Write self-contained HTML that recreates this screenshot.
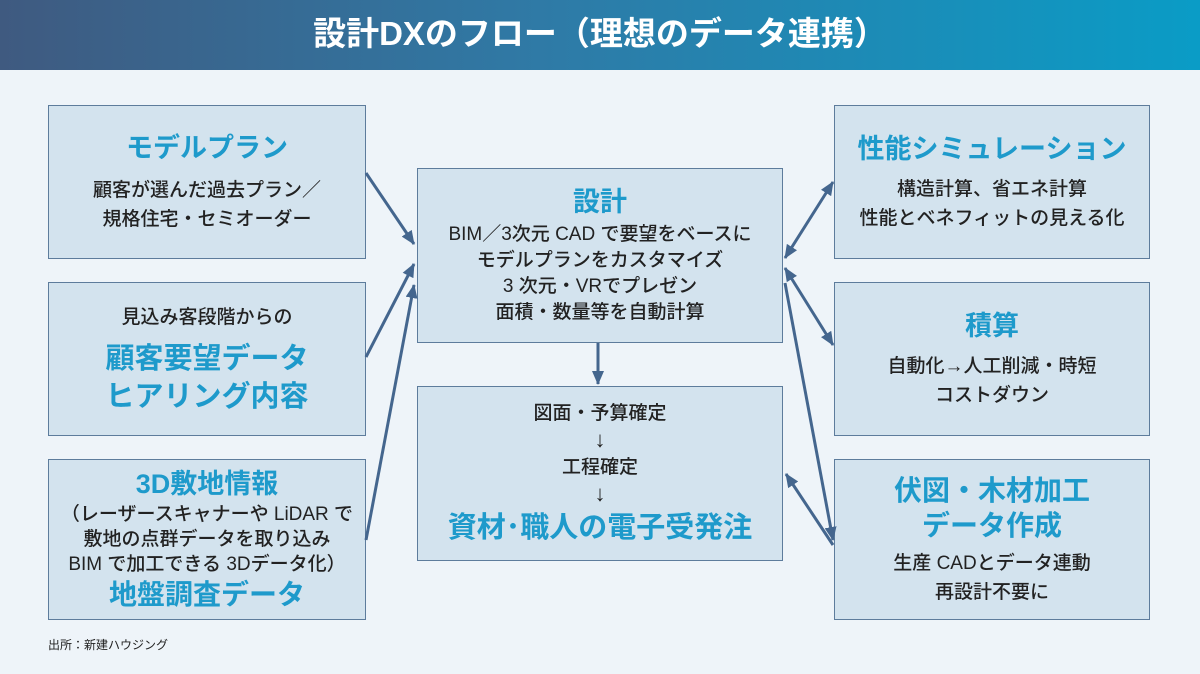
<!DOCTYPE html>
<html><head><meta charset="utf-8"><style>
*{margin:0;padding:0;box-sizing:border-box}
body{width:1200px;height:674px;background:#eef4f9;position:relative;overflow:hidden;font-family:"Liberation Sans","Noto Sans CJK JP",sans-serif;color:#222}
.hd{position:absolute;left:0;top:0;width:1200px;height:70px;background:linear-gradient(90deg,#3f5a80 0%,#2f7aa6 45%,#0a9cc6 100%);color:#fff;font-weight:bold;font-size:33px;text-align:center;line-height:68px}
.b{position:absolute;background:#d3e3ee;border:1.5px solid #5d7c9c;text-align:center;display:flex;flex-direction:column;justify-content:center;align-items:center}
.t{color:#1e9acb;font-weight:bold;font-size:27px;line-height:35px}
.s{font-size:19px;line-height:29px;font-weight:500}
svg{position:absolute;left:0;top:0}
.src{position:absolute;left:48px;top:636px;font-size:12px}
</style></head><body>
<div class="hd">設計DXのフロー（理想のデータ連携）</div>
<div class="b" style="left:48px;top:105px;width:318px;height:154px"><div class="t" style="margin-bottom:10px">モデルプラン</div><div class="s">顧客が選んだ過去プラン／<br>規格住宅・セミオーダー</div></div>
<div class="b" style="left:48px;top:282px;width:318px;height:154px"><div class="s" style="margin-bottom:8px">見込み客段階からの</div><div class="t" style="font-size:29px;line-height:38px">顧客要望データ<br>ヒアリング内容</div></div>
<div class="b" style="left:48px;top:459px;width:318px;height:161px"><div class="t">3D敷地情報</div><div class="s" style="line-height:25px">（レーザースキャナーや LiDAR で<br>敷地の点群データを取り込み<br>BIM で加工できる 3Dデータ化）</div><div class="t" style="font-size:28px">地盤調査データ</div></div>
<div class="b" style="left:417px;top:168px;width:366px;height:175px"><div class="t" style="margin-bottom:2px">設計</div><div class="s" style="line-height:26px">BIM／3次元 CAD で要望をベースに<br>モデルプランをカスタマイズ<br>3 次元・VRでプレゼン<br>面積・数量等を自動計算</div></div>
<div class="b" style="left:417px;top:386px;width:366px;height:175px"><div class="s" style="line-height:26px">図面・予算確定<br><span style="font-size:22px">↓</span><br>工程確定<br><span style="font-size:22px">↓</span></div><div class="t" style="font-size:29px;line-height:38px">資材･職人の電子受発注</div></div>
<div class="b" style="left:834px;top:105px;width:316px;height:154px"><div class="t" style="margin-bottom:8px">性能シミュレーション</div><div class="s">構造計算、省エネ計算<br>性能とベネフィットの見える化</div></div>
<div class="b" style="left:834px;top:282px;width:316px;height:154px"><div class="t" style="margin-bottom:8px">積算</div><div class="s">自動化→人工削減・時短<br>コストダウン</div></div>
<div class="b" style="left:834px;top:459px;width:316px;height:161px"><div class="t" style="font-size:28px">伏図・木材加工<br>データ作成</div><div class="s" style="margin-top:6px">生産 CADとデータ連動<br>再設計不要に</div></div>
<svg width="1200" height="674"><defs>
<marker id="m" markerWidth="14" markerHeight="12" refX="13" refY="6" orient="auto-start-reverse" markerUnits="userSpaceOnUse"><path d="M0,0L14,6L0,12z" fill="#44668e"/></marker></defs>
<g stroke="#44668e" stroke-width="3" fill="none">
<line x1="366" y1="173" x2="414" y2="244" marker-end="url(#m)"/>
<line x1="366" y1="357" x2="414" y2="264" marker-end="url(#m)"/>
<line x1="366" y1="540" x2="414" y2="285" marker-end="url(#m)"/>
<line x1="598" y1="343" x2="598" y2="384" marker-end="url(#m)"/>
<line x1="785" y1="258" x2="833" y2="182" marker-end="url(#m)" marker-start="url(#m)"/>
<line x1="785" y1="268" x2="833" y2="345" marker-end="url(#m)" marker-start="url(#m)"/>
<line x1="785" y1="283" x2="833" y2="540" marker-end="url(#m)"/>
<line x1="786" y1="474" x2="833" y2="545" marker-start="url(#m)"/>
</g></svg>
<div class="src">出所：新建ハウジング</div>
</body></html>
